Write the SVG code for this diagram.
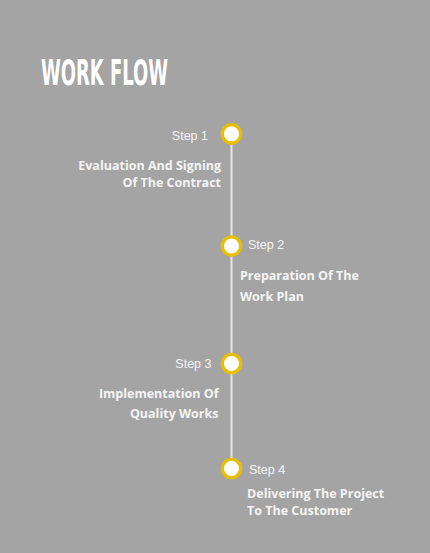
<svg xmlns="http://www.w3.org/2000/svg" width="430" height="553" viewBox="0 0 430 553">
<style>
.title{font-family:"DejaVu Sans Condensed","DejaVu Sans",sans-serif;font-weight:bold;font-size:36px;fill:#ffffff}
.step{font-family:"Liberation Sans",Arial,sans-serif;font-size:12.5px;fill:#f4f4f4}
.desc{font-family:"Open Sans",Lato,sans-serif;font-weight:700;font-size:12.5px;fill:#f4f4f4}
.dot{fill:#ffffff;stroke:#e6c000;stroke-width:3.3}
</style>
<rect width="430" height="553" fill="#a4a4a4"/>
<text class="title" x="41" y="85" textLength="127" lengthAdjust="spacingAndGlyphs">WORK FLOW</text>
<g id="connectors">
<line x1="231.5" y1="134" x2="231.5" y2="468" stroke="#e6e6e6" stroke-width="2"/>
</g>
<g id="step1">
<circle class="dot" cx="231.5" cy="133.8" r="9.2"/>
<text class="step" x="208" y="140" text-anchor="end">Step 1</text>
<text class="desc" x="221" y="170" text-anchor="end">Evaluation And Signing</text>
<text class="desc" x="221" y="187" text-anchor="end">Of The Contract</text>
</g>
<g id="step2">
<circle class="dot" cx="231.5" cy="246" r="9.2"/>
<text class="step" x="248" y="249">Step 2</text>
<text class="desc" x="240" y="280">Preparation Of The</text>
<text class="desc" x="240" y="301">Work Plan</text>
</g>
<g id="step3">
<circle class="dot" cx="231.5" cy="363.5" r="9.2"/>
<text class="step" x="211.5" y="367.5" text-anchor="end">Step 3</text>
<text class="desc" x="218.5" y="398" text-anchor="end">Implementation Of</text>
<text class="desc" x="218.5" y="417.5" text-anchor="end">Quality Works</text>
</g>
<g id="step4">
<circle class="dot" cx="231.5" cy="468.5" r="9.2"/>
<text class="step" x="249" y="474">Step 4</text>
<text class="desc" x="247" y="497.5">Delivering The Project</text>
<text class="desc" x="247" y="515">To The Customer</text>
</g>
</svg>
